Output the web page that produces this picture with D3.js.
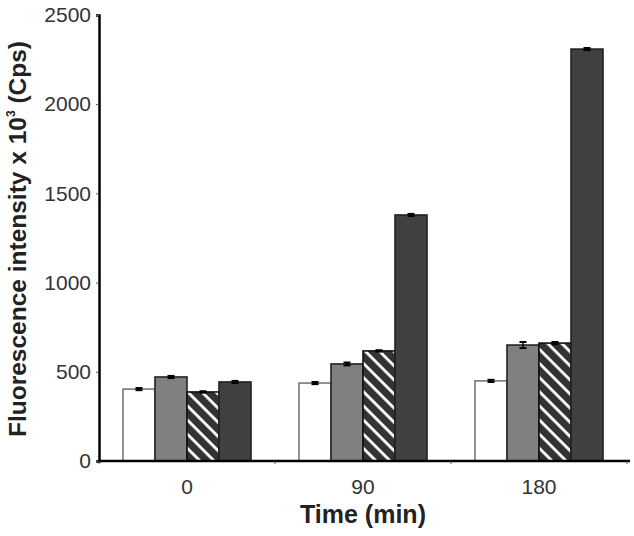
<!DOCTYPE html>
<html><head><meta charset="utf-8">
<script src="https://cdn.jsdelivr.net/npm/d3@7"></script>
<style>body{margin:0;background:#fff;} svg{display:block;}</style>
</head><body>
<svg id="c" width="634" height="536"></svg>
<script>
const categories = ["0", "90", "180"];
const seriesNames = ["s1", "s2", "s3", "s4"];
const s1 = [403, 437, 449];
const s2 = [471, 544, 650];
const s3 = [387, 617, 661];
const s4 = [443, 1379, 2309];
const e1 = [6, 6, 6];
const e2 = [6, 8, 17];
const e3 = [4, 4, 6];
const e4 = [6, 6, 6];
const yTicks = [0, 500, 1000, 1500, 2000, 2500];
const series = [s1, s2, s3, s4];
const errors = [e1, e2, e3, e4];

const svg = d3.select("#c");
const defs = svg.append("defs");
const pat = defs.append("pattern").attr("id","hatch").attr("patternUnits","userSpaceOnUse")
  .attr("width",10).attr("height",10).attr("patternTransform","rotate(45)");
pat.append("rect").attr("width",10).attr("height",10).attr("fill","#333");
pat.append("rect").attr("x",0).attr("y",0).attr("width",10).attr("height",2.8).attr("fill","#fff");

const fills = ["#fff", "#808080", "url(#hatch)", "#404040"];
const strokes = ["#777", "#222", "#111", "#222"];
const font = "Liberation Sans, Arial, sans-serif";

const y = d3.scaleLinear().domain([0,2500]).range([461,15]);
const x0 = d3.scaleBand().domain(categories).range([99,627]).paddingInner(0.2727).paddingOuter(0.13635);
const x1 = d3.scaleBand().domain(seriesNames).range([0,x0.bandwidth()]);

// bars
categories.forEach((c,i)=>{
  const g = svg.append("g").attr("transform",`translate(${x0(c)},0)`);
  seriesNames.forEach((s,j)=>{
    const v = series[j][i];
    g.append("rect").attr("x",x1(s)).attr("y",y(v)).attr("width",x1.bandwidth()).attr("height",y(0)-y(v))
      .attr("fill",fills[j]).attr("stroke",strokes[j]).attr("stroke-width",1.6);
    const cx = x1(s)+x1.bandwidth()/2;
    const e = errors[j][i];
    g.append("line").attr("x1",cx).attr("x2",cx).attr("y1",y(v+e)).attr("y2",y(v-e)).attr("stroke","#000").attr("stroke-width",1.5);
    [v+e, v-e].forEach(t=>g.append("line").attr("x1",cx-3.5).attr("x2",cx+3.5).attr("y1",y(t)).attr("y2",y(t)).attr("stroke","#000").attr("stroke-width",2));
  });
});

// y axis
const ya = svg.append("g").attr("transform","translate(99,0)")
  .call(d3.axisLeft(y).tickValues(yTicks).tickSize(3).tickPadding(5).tickFormat(d3.format("d")));
ya.select(".domain").attr("stroke","#000").attr("stroke-width",2.5);
ya.selectAll(".tick line").attr("stroke","#555");
ya.selectAll(".tick text").attr("font-family",font).attr("font-size",21).attr("fill","#333");

// x axis
const xa = svg.append("g").attr("transform","translate(0,461)");
xa.append("line").attr("x1",97.8).attr("x2",630).attr("y1",0).attr("y2",0).attr("stroke","#000").attr("stroke-width",2.5);
const seps = [x0.range()[0]].concat(categories.map(c=>x0(c)+x0.bandwidth()+x0.step()*x0.paddingInner()/2));
seps.forEach(p=>xa.append("line").attr("x1",p).attr("x2",p).attr("y1",0).attr("y2",3).attr("stroke","#555"));
categories.forEach(c=>xa.append("text").attr("x",x0(c)+x0.bandwidth()/2).attr("y",33).attr("text-anchor","middle")
  .attr("font-family",font).attr("font-size",21).attr("fill","#333").text(c));

// axis titles
svg.append("text").attr("x",363).attr("y",523).attr("text-anchor","middle")
  .attr("font-family",font).attr("font-weight","bold").attr("font-size",25).attr("fill","#222").text("Time (min)");
const yl = svg.append("text").attr("transform","translate(26,239) rotate(-90)").attr("text-anchor","middle")
  .attr("font-family",font).attr("font-weight","bold").attr("font-size",24.5).attr("fill","#222");
yl.append("tspan").text("Fluorescence intensity x 10");
yl.append("tspan").attr("font-size",12).attr("dy",-11).text("3");
yl.append("tspan").attr("dy",11).text(" (Cps)");
</script>
</body></html>
